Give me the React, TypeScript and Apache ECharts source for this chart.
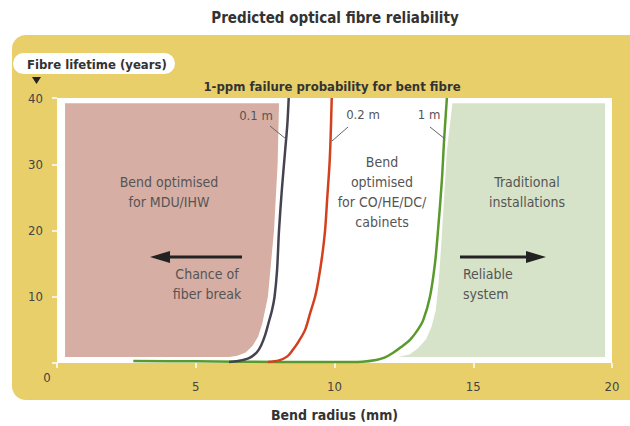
import React, { useEffect, useRef } from "react";
import * as echarts from "echarts";

const xTicks = [0, 5, 10, 15, 20];
const yTicks = [0, 10, 20, 30, 40];

// [bend radius mm, lifetime years]
const curve01m: number[][] = [
  [6.2, 0.15], [6.5, 0.3], [6.9, 0.7], [7.2, 1.6], [7.35, 2.6], [7.5, 4.2],
  [7.62, 6], [7.75, 8], [7.84, 10], [7.93, 14], [8.0, 20], [8.1, 26],
  [8.22, 32], [8.3, 36], [8.35, 40],
];
const curve02m: number[][] = [
  [7.6, 0.15], [8.0, 0.4], [8.3, 1.0], [8.5, 2.0], [8.7, 3.2], [8.94, 5],
  [9.12, 7.5], [9.3, 10], [9.42, 12.5], [9.55, 16], [9.66, 20], [9.74, 25],
  [9.82, 30], [9.86, 34], [9.9, 40],
];
const curve1m: number[][] = [
  [2.75, 0.3], [5, 0.25], [8, 0.15], [10, 0.15], [11, 0.2], [11.5, 0.45],
  [11.8, 0.8], [12.1, 1.5], [12.4, 2.4], [12.72, 3.5], [13.0, 5], [13.2, 6.5],
  [13.44, 10], [13.62, 15], [13.73, 20], [13.87, 27.6], [13.95, 33.7], [14.05, 40],
];

const mduRegion: number[][] = [
  [0.29, 39.2], [8.0, 39.2], [7.95, 30], [7.82, 20], [7.6, 10], [7.4, 6],
  [7.25, 4], [7.05, 2.6], [6.8, 1.6], [6.5, 1.1], [6.2, 0.9], [0.29, 0.9],
];
const tradRegion: number[][] = [
  [14.25, 39.2], [19.75, 39.2], [19.75, 0.9], [12.3, 0.9], [12.7, 1.3],
  [13.0, 2.2], [13.3, 3.6], [13.5, 5.5], [13.65, 8], [13.75, 12], [13.85, 18],
  [13.95, 25], [14.05, 32], [14.25, 39.2],
];
const regions = [mduRegion, tradRegion];
const regionColors = ["#d6aea3", "#d6e3c8"];

const FONT = "'Liberation Sans Narrow', 'DejaVu Sans Condensed', 'Roboto Condensed', sans-serif";

export default function App() {
  const ref = useRef<HTMLDivElement>(null);
  useEffect(() => {
    if (!ref.current) return;
    const chart = echarts.init(ref.current, null, { renderer: "svg" });
    const textStyle = (t: string, x: number, y: number, extra: any = {}) => ({
      type: "text",
      x,
      y,
      z: 100,
      style: {
        text: t,
        fill: "#555",
        font: `14px ${FONT}`,
        align: "center",
        verticalAlign: "middle",
        lineHeight: 20,
        ...extra,
      },
    });
    const option: any = {
      animation: false,
      grid: {
        left: 57,
        right: 18,
        top: 98,
        bottom: 63,
        outerBoundsMode: "none",
        containLabel: false,
        show: true,
        backgroundColor: "#ffffff",
        borderWidth: 0,
      },
      xAxis: {
        type: "value",
        min: 0,
        max: 20,
        interval: 5,
        name: "Bend radius (mm)",
        nameLocation: "middle",
        nameGap: 45,
        nameTextStyle: { fontFamily: FONT, fontWeight: "bold", fontSize: 14, color: "#333" },
        axisLine: { show: false },
        axisTick: { show: true, length: 5, lineStyle: { color: "#ffffff", width: 1.5 } },
        splitLine: { show: false },
        axisLabel: {
          margin: 17,
          color: "#444",
          fontFamily: FONT,
          fontSize: 13,
          formatter: (v: number) => (v === 0 ? "" : String(v)),
        },
      },
      yAxis: {
        type: "value",
        min: 0,
        max: 40,
        interval: 10,
        axisLine: { show: false },
        axisTick: { show: true, length: 5, lineStyle: { color: "#ffffff", width: 1.5 } },
        splitLine: { show: false },
        axisLabel: {
          margin: 14,
          color: "#444",
          fontFamily: FONT,
          fontSize: 13,
          formatter: (v: number) => (v === 0 ? "" : String(v)),
        },
      },
      graphic: [
        {
          type: "rect",
          z: -10,
          shape: { x: 12, y: 35, width: 640, height: 365, r: 14 },
          style: { fill: "#e8cf6a" },
        },
        {
          type: "text",
          z: 100,
          x: 335,
          y: 18,
          style: {
            text: "Predicted optical fibre reliability",
            font: `bold 15px ${FONT}`,
            fill: "#333",
            align: "center",
            verticalAlign: "middle",
          },
        },
        {
          type: "rect",
          z: 50,
          shape: { x: 13, y: 53, width: 162, height: 21, r: 10.5 },
          style: { fill: "#ffffff" },
        },
        {
          type: "text",
          z: 100,
          x: 27,
          y: 64,
          style: {
            text: "Fibre lifetime (years)",
            font: `bold 13px ${FONT}`,
            fill: "#333",
            align: "left",
            verticalAlign: "middle",
          },
        },
        {
          type: "polygon",
          z: 100,
          shape: { points: [[32, 77], [41, 77], [36.5, 84]] },
          style: { fill: "#222" },
        },
        {
          type: "text",
          z: 100,
          x: 332,
          y: 86,
          style: {
            text: "1-ppm failure probability for bent fibre",
            font: `bold 13px ${FONT}`,
            fill: "#333",
            align: "center",
            verticalAlign: "middle",
          },
        },
        textStyle("0", 47, 377, { fill: "#444", font: `13px ${FONT}` }),
        textStyle("0.1 m", 256, 115, { font: `13px ${FONT}` }),
        textStyle("0.2 m", 363, 114, { font: `13px ${FONT}` }),
        textStyle("1 m", 429, 114, { font: `13px ${FONT}` }),
        { type: "line", z: 100, shape: { x1: 270, y1: 126, x2: 286, y2: 139 }, style: { stroke: "#666", lineWidth: 1 } },
        { type: "line", z: 100, shape: { x1: 348, y1: 127, x2: 332, y2: 141 }, style: { stroke: "#666", lineWidth: 1 } },
        { type: "line", z: 100, shape: { x1: 430, y1: 127, x2: 445, y2: 139 }, style: { stroke: "#666", lineWidth: 1 } },
        textStyle("Bend optimised\nfor MDU/IHW", 169, 192),
        textStyle("Chance of\nfiber break", 207, 284),
        textStyle("Bend\noptimised\nfor CO/HE/DC/\ncabinets", 382, 192),
        textStyle("Traditional\ninstallations", 527, 192),
        textStyle("Reliable\nsystem", 463, 284, { align: "left" }),
        { type: "line", z: 100, shape: { x1: 166, y1: 257, x2: 242, y2: 257 }, style: { stroke: "#222", lineWidth: 3 } },
        { type: "polygon", z: 100, shape: { points: [[150, 257], [170, 251], [170, 263]] }, style: { fill: "#222" } },
        { type: "line", z: 100, shape: { x1: 460, y1: 257, x2: 530, y2: 257 }, style: { stroke: "#222", lineWidth: 3 } },
        { type: "polygon", z: 100, shape: { points: [[546, 257], [526, 251], [526, 263]] }, style: { fill: "#222" } },
      ],
      series: [
        {
          type: "custom",
          z: 1,
          data: regions.map((_, i) => [i]),
          renderItem: (params: any, api: any) => {
            const idx = params.dataIndex;
            const pts = regions[idx].map((p) => api.coord(p));
            return {
              type: "polygon",
              shape: { points: pts, smooth: 0 },
              style: { fill: regionColors[idx] },
            };
          },
          silent: true,
        },
        {
          type: "line",
          name: "1 m",
          z: 3,
          data: curve1m,
          smooth: 0.3,
          showSymbol: false,
          lineStyle: { color: "#5a9a2c", width: 2.5 },
        },
        {
          type: "line",
          name: "0.1 m",
          z: 4,
          data: curve01m,
          smooth: 0.3,
          showSymbol: false,
          lineStyle: { color: "#45434f", width: 2.5 },
        },
        {
          type: "line",
          name: "0.2 m",
          z: 4,
          data: curve02m,
          smooth: 0.3,
          showSymbol: false,
          lineStyle: { color: "#d2401e", width: 2.5 },
        },
      ],
    };
    chart.setOption(option);
    return () => chart.dispose();
  }, []);
  return (
    <div
      ref={ref}
      style={{ position: "fixed", left: 0, top: 0, width: 630, height: 426, background: "#fff" }}
    />
  );
}
